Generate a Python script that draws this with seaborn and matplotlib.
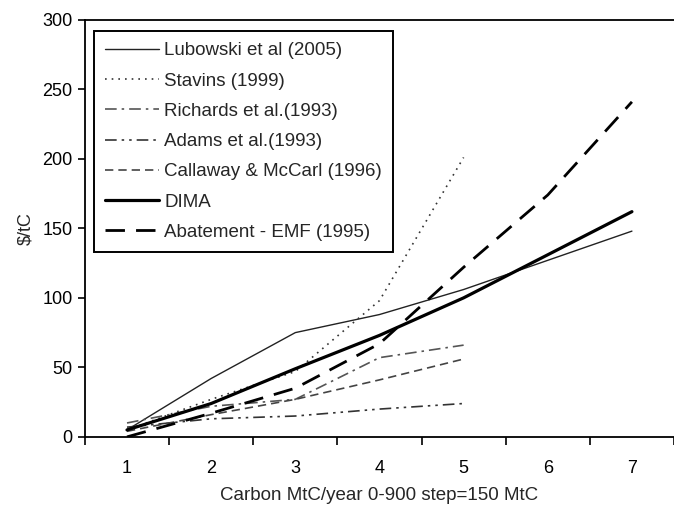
import matplotlib
matplotlib.use("Agg")
import matplotlib.pyplot as plt
import seaborn as sns
import pandas as pd

# Données ($/tC par pas de carbone)
steps = [1, 2, 3, 4, 5, 6, 7]
lubowski = [5, 42, 75, 88, 106, 127, 148]
stavins = [5, 27, 47, 98, 201]
richards = [10, 22, 27, 57, 66]
adams = [7, 13, 15, 20, 24]
callaway = [4, 16, 27, 41, 56]
dima = [5, 24, 49, 73, 100, 131, 162]
abatement = [0, 17, 35, 67, 122, 174, 241]

series = [
    ("Lubowski et al (2005)", lubowski, dict(color="#222222", lw=1.0, ls="-")),
    ("Stavins (1999)", stavins, dict(color="#333333", lw=1.2, ls=(0, (1, 3)))),
    ("Richards et al.(1993)", richards, dict(color="#555555", lw=1.2, ls=(0, (7, 3, 1.5, 3)))),
    ("Adams et al.(1993)", adams, dict(color="#333333", lw=1.2, ls=(0, (7, 3, 1.5, 3, 1.5, 3)))),
    ("Callaway & McCarl (1996)", callaway, dict(color="#444444", lw=1.2, ls=(0, (5, 3)))),
    ("DIMA", dima, dict(color="black", lw=2.3, ls="-")),
    ("Abatement - EMF (1995)", abatement, dict(color="black", lw=2.0, ls=(0, (7, 4)))),
]

sns.set_theme(style="white")
plt.rcParams["font.family"] = ["Liberation Sans", "DejaVu Sans"]

fig = plt.figure(figsize=(6.74, 5.08), dpi=100)
ax = fig.add_axes([0.126, 0.140, 0.874, 0.821])

for name, vals, style in series:
    df = pd.DataFrame({"x": steps[:len(vals)], "y": vals})
    sns.lineplot(data=df, x="x", y="y", ax=ax, label=name, **style)

ax.set_xlim(0.5, 7.43)
ax.set_ylim(0, 300)
ax.set_xticks(steps)
ax.set_xticks([s - 0.5 for s in steps] + [7.5], minor=True)
ax.set_yticks(range(0, 301, 50))
ax.tick_params(axis="x", which="major", length=0, labelsize=13, pad=17, colors="black")
ax.tick_params(axis="x", which="minor", length=6, width=1.2, direction="out", bottom=True, color="black")
ax.tick_params(axis="y", length=5, width=1.2, direction="out", left=True, labelsize=13,
               pad=4, colors="black")

for side in ["left", "bottom", "top"]:
    ax.spines[side].set_color("black")
    ax.spines[side].set_linewidth(1.3)
ax.spines["right"].set_visible(False)

ax.set_xlabel("Carbon MtC/year 0-900 step=150 MtC", fontsize=13.5, labelpad=7)
ax.set_ylabel("$/tC", fontsize=13, labelpad=6)

leg = ax.legend(loc="upper left", bbox_to_anchor=(0.015, 0.973), borderaxespad=0,
                fontsize=13.5, handlelength=2.9, handletextpad=0.27, labelspacing=0.7,
                fancybox=False, framealpha=1, edgecolor="black", borderpad=0.6)
leg.get_frame().set_linewidth(1.4)

fig.savefig("out.png", dpi=100)
